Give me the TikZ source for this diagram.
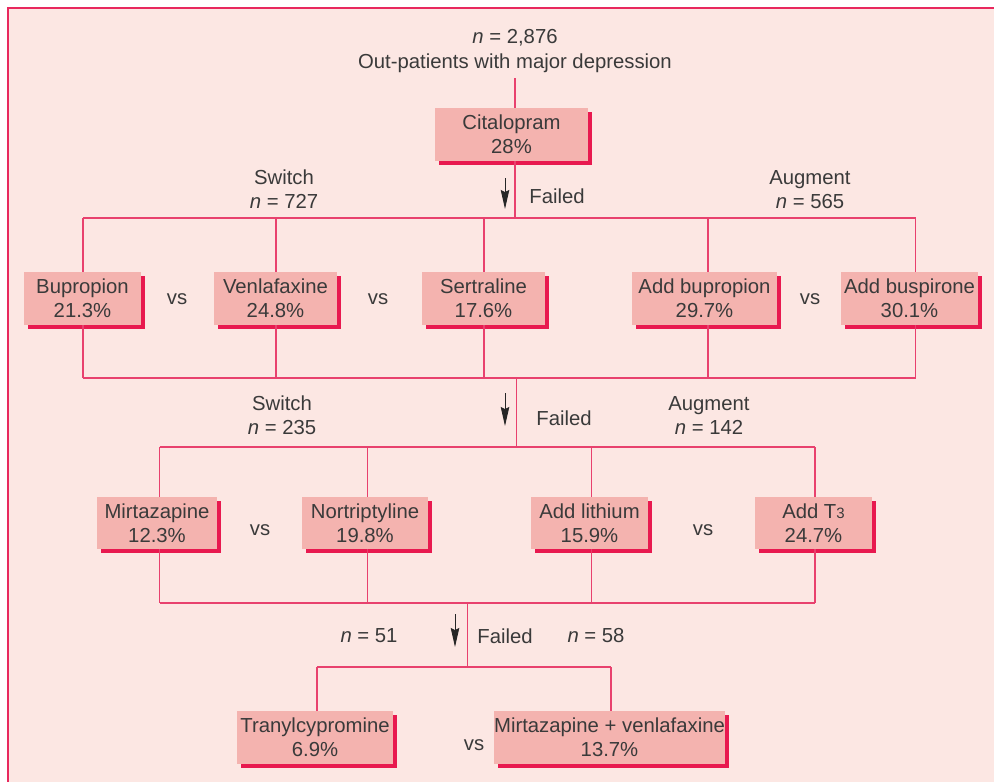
\documentclass[tikz,border=0pt]{standalone}
\usepackage{fontspec}
\setmainfont{Liberation Sans}
\usetikzlibrary{arrows.meta,shadows}
\definecolor{bg}{HTML}{FCE7E3}
\definecolor{linec}{HTML}{E8416E}
\definecolor{framec}{HTML}{E8295E}
\definecolor{boxc}{HTML}{F4B3AF}
\definecolor{shadowc}{HTML}{E8194F}
\definecolor{txt}{HTML}{3A3A3A}
\begin{document}
\begin{tikzpicture}[x=1pt,y=-1pt,
  every node/.style={font=\fontsize{20.3}{24}\selectfont, text=txt},
  drug/.style={rectangle, fill=boxc, minimum height=53pt, inner sep=0pt, align=center,
    copy shadow={shadow xshift=4pt, shadow yshift=-4pt, fill=shadowc, draw=none}},
  link/.style={draw=linec, line width=1.2pt},
  fail/.style={-{Stealth[length=19pt,width=8.5pt,inset=2pt]}, line width=1pt, black!85},
  lbl/.style={inner sep=0pt, align=center}]

% page and frame
\useasboundingbox (0,0) rectangle (994,782);
\fill[white] (0,0) rectangle (994,782);
\fill[bg] (7.5,7.5) rectangle (994,782);
\draw[framec, line width=2pt] (7.5,782) -- (7.5,7.5) -- (994,7.5);

% header and first step
\node[lbl] (pop) at (515,51) {\textit{n} = 2,876\\[1.5pt]Out-patients with major depression};
\node[drug, minimum width=153pt] (cit) at (511.5,134.5) {Citalopram\\28\%};
\coordinate (s0) at (515,78);
\draw[link] (s0) -- (515,0 |- cit.north);
\draw[link] (515,0 |- cit.south) -- (515,218);
\draw[fail] (505,178) -- (505,209);
\node[lbl] (f1) at (557,196) {Failed};
\node[lbl] (sw1) at (284,189.5) {Switch\\\textit{n} = 727};
\node[lbl] (au1) at (810,189.5) {Augment\\\textit{n} = 565};

% second step
\node[drug, minimum width=117pt] (bup)  at (82.5,298.5)  {Bupropion\\21.3\%};
\node[drug, minimum width=123pt] (ven)  at (275.5,298.5) {Venlafaxine\\24.8\%};
\node[drug, minimum width=123pt] (ser)  at (483.5,298.5) {Sertraline\\17.6\%};
\node[drug, minimum width=145pt] (abup) at (704.5,298.5) {Add bupropion\\29.7\%};
\node[drug, minimum width=137pt] (abus) at (909.5,298.5) {Add buspirone\\30.1\%};
\node[lbl] (vs1) at (177,299) {vs};
\node[lbl] (vs2) at (378,299) {vs};
\node[lbl] (vs3) at (810,299) {vs};
\draw[link] (83,218) -- (915.5,218);
\draw[link] (83,378) -- (915.5,378);
\foreach \n/\x in {bup/83, ven/276, ser/484, abup/708, abus/915.5} {
  \draw[link] (\x,218) -- (\x,0 |- \n.north);
  \draw[link] (\x,0 |- \n.south) -- (\x,378);
}
\draw[link] (516.5,378) -- (516.5,447);
\draw[fail] (505,393) -- (505,426);
\node[lbl] (f2) at (564,418) {Failed};
\node[lbl] (sw2) at (282,415.5) {Switch\\\textit{n} = 235};
\node[lbl] (au2) at (709,415.5) {Augment\\\textit{n} = 142};

% third step
\node[drug, minimum width=120pt, minimum height=52pt] (mir) at (157,523)   {Mirtazapine\\12.3\%};
\node[drug, minimum width=126pt, minimum height=52pt] (nor) at (365,523)   {Nortriptyline\\19.8\%};
\node[drug, minimum width=117pt, minimum height=52pt] (ali) at (589.5,523) {Add lithium\\15.9\%};
\node[drug, minimum width=117pt, minimum height=52pt] (at3) at (813.5,523) {Add T{\fontsize{15}{15}\selectfont 3}\\24.7\%};
\node[lbl] (vs4) at (260,530) {vs};
\node[lbl] (vs5) at (703,530) {vs};
\draw[link] (159.5,447) -- (815,447);
\draw[link] (159.5,603) -- (815,603);
\foreach \n/\x in {mir/159.5, nor/367.6, ali/591.5, at3/815} {
  \draw[link] (\x,447) -- (\x,0 |- \n.north);
  \draw[link] (\x,0 |- \n.south) -- (\x,603);
}
\draw[link] (467.6,603) -- (467.6,667);
\draw[fail] (455,614) -- (455,647);
\node[lbl] (f3)  at (505,636) {Failed};
\node[lbl] (n51) at (369,636) {\textit{n} = 51};
\node[lbl] (n58) at (596,636) {\textit{n} = 58};

% fourth step
\node[drug, minimum width=156pt] (tra) at (315,737.5)   {Tranylcypromine\\6.9\%};
\node[drug, minimum width=227pt] (mv)  at (609.5,737.5) {Mirtazapine + venlafaxine\\13.7\%};
\node[lbl] (vs6) at (474,745) {vs};
\draw[link] (317,667) -- (611,667);
\foreach \n/\x in {tra/317, mv/611} {
  \draw[link] (\x,667) -- (\x,0 |- \n.north);
}
\end{tikzpicture}
\end{document}
